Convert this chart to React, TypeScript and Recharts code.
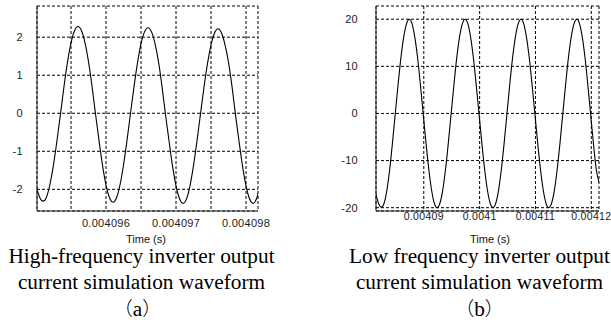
import React from "react";
import { LineChart, Line, XAxis, YAxis, CartesianGrid } from "recharts";

// (a) high-frequency inverter, time in microseconds, current in A
const hfTimeUs = [
  4095.0, 4095.05, 4095.1, 4095.15, 4095.2, 4095.25, 4095.3, 4095.35, 4095.4, 4095.45,
  4095.5, 4095.55, 4095.6, 4095.65, 4095.7, 4095.75, 4095.8, 4095.85, 4095.9, 4095.95,
  4096.0, 4096.05, 4096.1, 4096.15, 4096.2, 4096.25, 4096.3, 4096.35, 4096.4, 4096.45,
  4096.5, 4096.55, 4096.6, 4096.65, 4096.7, 4096.75, 4096.8, 4096.85, 4096.9, 4096.95,
  4097.0, 4097.05, 4097.1, 4097.15, 4097.2, 4097.25, 4097.3, 4097.35, 4097.4, 4097.45,
  4097.5, 4097.55, 4097.6, 4097.65, 4097.7, 4097.75, 4097.8, 4097.85, 4097.9, 4097.95,
  4098.0, 4098.05, 4098.1, 4098.15, 4098.2,
];
const hfCurrent = [
  -1.9, -2.2, -2.31, -2.2, -1.86, -1.35, -0.71, -0.01, 0.71, 1.35,
  1.85, 2.17, 2.28, 2.17, 1.85, 1.35, 0.71, -0.02, -0.72, -1.37,
  -1.89, -2.22, -2.34, -2.22, -1.88, -1.36, -0.71, 0.0, 0.7, 1.33,
  1.83, 2.14, 2.25, 2.14, 1.83, 1.35, 0.7, -0.04, -0.73, -1.39,
  -1.91, -2.25, -2.37, -2.25, -1.9, -1.37, -0.72, -0.01, 0.69, 1.31,
  1.8, 2.11, 2.22, 2.11, 1.8, 1.34, 0.7, -0.05, -0.74, -1.39,
  -1.91, -2.25, -2.37, -2.25, -1.91,
];
const hfTicks = [4095.5, 4096, 4096.5, 4097, 4097.5, 4098];
const hfYTicks = [-2, -1, 0, 1, 2];

// (b) low-frequency inverter
const lfTimeUs = [
  4081.4, 4081.9, 4082.4, 4082.9, 4083.4, 4083.9, 4084.4, 4084.9, 4085.4, 4085.9,
  4086.4, 4086.9, 4087.4, 4087.9, 4088.4, 4088.9, 4089.4, 4089.9, 4090.4, 4090.9,
  4091.4, 4091.9, 4092.4, 4092.9, 4093.4, 4093.9, 4094.4, 4094.9, 4095.4, 4095.9,
  4096.4, 4096.9, 4097.4, 4097.9, 4098.4, 4098.9, 4099.4, 4099.9, 4100.4, 4100.9,
  4101.4, 4101.9, 4102.4, 4102.9, 4103.4, 4103.9, 4104.4, 4104.9, 4105.4, 4105.9,
  4106.4, 4106.9, 4107.4, 4107.9, 4108.4, 4108.9, 4109.4, 4109.9, 4110.4, 4110.9,
  4111.4, 4111.9, 4112.4, 4112.9, 4113.4, 4113.9, 4114.4, 4114.9, 4115.4, 4115.9,
  4116.4, 4116.9, 4117.4, 4117.9, 4118.4, 4118.9, 4119.4, 4119.9, 4120.4, 4120.9,
  4121.4,
];
const lfCurrent = [
  -17.0, -19.1, -19.9, -19.0, -16.2, -11.8, -6.1, 0.1, 6.2, 11.8,
  16.2, 19.0, 20.0, 19.0, 16.1, 11.7, 6.0, -0.2, -6.3, -11.9,
  -16.3, -19.1, -20.0, -19.0, -16.2, -11.8, -6.2, 0.0, 6.1, 11.8,
  16.2, 19.0, 20.0, 19.0, 16.1, 11.6, 5.9, -0.2, -6.3, -11.9,
  -16.3, -19.1, -20.0, -19.0, -16.2, -11.8, -6.2, 0.0, 6.2, 11.8,
  16.2, 19.0, 20.0, 19.0, 16.1, 11.7, 6.0, -0.1, -6.3, -11.9,
  -16.3, -19.1, -20.0, -19.0, -16.2, -11.8, -6.2, 0.0, 6.1, 11.8,
  16.2, 19.0, 20.0, 19.0, 16.1, 11.6, 5.8, -0.4, -6.6, -12.0,
  -14.6,
];
const lfTicks = [4090, 4100, 4110, 4120];
const lfYTicks = [-20, -10, 0, 10, 20];

const hfData = hfTimeUs.map((t, i) => ({ t, current: hfCurrent[i] }));
const lfData = lfTimeUs.map((t, i) => ({ t, current: lfCurrent[i] }));

const toSeconds = (v: number) => Number((v / 1e6).toPrecision(7)).toString();

const sans = "Liberation Sans, Arial, sans-serif";
const serif = "'Liberation Serif', 'Times New Roman', serif";
const cjk = "'Noto Sans CJK SC', sans-serif";

function Waveform({
  data, xDomain, yDomain, xTicks, yTicks, xLabel, yAxisWidth, yTickMargin, xTickMargin, width, right, tickFont,
}: any) {
  const tickStyle = { fontSize: tickFont, fill: "#1a1a1a", fontFamily: sans, letterSpacing: 0.3 };
  return (
    <LineChart width={width} height={240} data={data} margin={{ top: 6, right, bottom: 0, left: 0 }}>
      <CartesianGrid stroke="#000" strokeDasharray="3 2" />
      <XAxis
        dataKey="t"
        type="number"
        domain={xDomain}
        allowDataOverflow
        ticks={xTicks}
        interval={0}
        height={29}
        tickLine={false}
        tickSize={0}
        tickMargin={xTickMargin}
        tickFormatter={xLabel}
        tick={tickStyle}
        axisLine={{ stroke: "#222" }}
      />
      <XAxis xAxisId="top" orientation="top" type="number" domain={xDomain} allowDataOverflow height={0} tick={false} tickLine={false} axisLine={{ stroke: "#777" }} />
      <YAxis
        type="number"
        domain={yDomain}
        allowDataOverflow
        ticks={yTicks}
        interval={0}
        width={yAxisWidth}
        tickLine={false}
        tickSize={0}
        tickMargin={yTickMargin}
        tick={{ ...tickStyle, fontSize: 11 }}
        axisLine={{ stroke: "#222" }}
      />
      <YAxis yAxisId="right" orientation="right" type="number" domain={yDomain} allowDataOverflow width={0} tick={false} tickLine={false} axisLine={{ stroke: "#777" }} />
      <Line type="monotone" dataKey="current" stroke="#000" strokeWidth={1.1} dot={false} isAnimationActive={false} />
    </LineChart>
  );
}

const timeLabel: React.CSSProperties = {
  position: "absolute", top: 232, width: 100, height: 14, lineHeight: "14px",
  textAlign: "center", fontSize: 11, fontFamily: sans, color: "#111",
};
const caption: React.CSSProperties = {
  position: "absolute", top: 244, textAlign: "center", whiteSpace: "nowrap",
  fontSize: 21.3, lineHeight: "25.5px", fontFamily: serif, color: "#000",
};
const paren: React.CSSProperties = { fontFamily: cjk, fontWeight: 300, fontSize: 19 };

export default function App() {
  return (
    <div style={{ position: "absolute", left: 0, top: 0, width: 611, height: 322, background: "#fff", overflow: "hidden" }}>
      <div style={{ position: "absolute", left: 0, top: 0 }}>
        <Waveform
          data={hfData}
          xDomain={[4095.014, 4098.171]}
          yDomain={[-2.57, 2.82]}
          xTicks={hfTicks}
          yTicks={hfYTicks}
          xLabel={(v: number) => (Number.isInteger(v) ? toSeconds(v) : "")}
          yAxisWidth={37}
          yTickMargin={14}
          xTickMargin={8}
          width={300}
          right={42}
          tickFont={11}
        />
      </div>
      <div style={{ position: "absolute", left: 300, top: 0 }}>
        <Waveform
          data={lfData}
          xDomain={[4081.44, 4121.38]}
          yDomain={[-20.7, 22.8]}
          xTicks={lfTicks}
          yTicks={lfYTicks}
          xLabel={toSeconds}
          yAxisWidth={76}
          yTickMargin={18}
          xTickMargin={2}
          width={311}
          right={12}
          tickFont={10.5}
        />
      </div>
      <div style={{ ...timeLabel, left: 96 }}>Time (s)</div>
      <div style={{ ...timeLabel, left: 440 }}>Time (s)</div>
      <div style={{ ...caption, left: 0, width: 283 }}>
        <div>High-frequency inverter output</div>
        <div>current simulation waveform</div>
        <div style={{ paddingRight: 8 }}><span style={paren}>（</span>a<span style={paren}>）</span></div>
      </div>
      <div style={{ ...caption, left: 339, width: 281 }}>
        <div>Low frequency inverter output</div>
        <div>current simulation waveform</div>
        <div><span style={paren}>（</span>b<span style={paren}>）</span></div>
      </div>
    </div>
  );
}
